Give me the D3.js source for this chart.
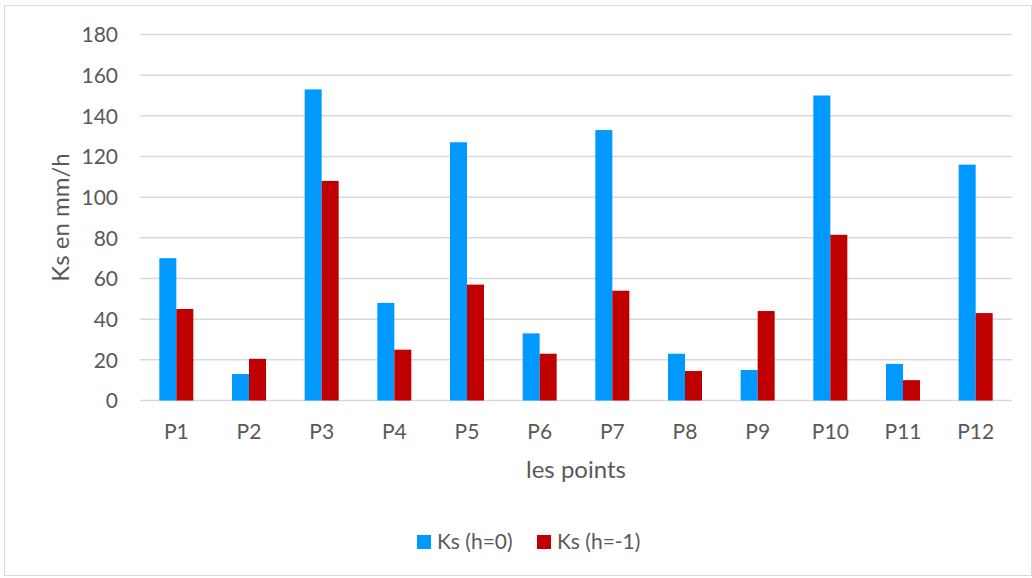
<!DOCTYPE html>
<html>
<head>
<meta charset="utf-8">
<script src="https://cdn.jsdelivr.net/npm/d3@7"></script>
<style>
  body { margin: 0; background: #fff; }
  svg text { font-family: Lato, "Open Sans", sans-serif; fill: #595959; }
</style>
</head>
<body>
<div id="chart"></div>
<script>
var points = ["P1", "P2", "P3", "P4", "P5", "P6", "P7", "P8", "P9", "P10", "P11", "P12"];
var ksH0 = [70, 13, 153, 48, 127, 33, 133, 23, 15, 150, 18, 116];
var ksH1 = [45, 20.5, 108, 25, 57, 23, 54, 14.5, 44, 81.5, 10, 43];
var seriesNames = ["Ks (h=0)", "Ks (h=-1)"];
var seriesColors = ["#0099FF", "#C00000"];
var yTicks = [0, 20, 40, 60, 80, 100, 120, 140, 160, 180];

var width = 1032, height = 578;
var plotLeft = 140, plotRight = 1012, plotTop = 34.5, plotBottom = 400.5;

var svg = d3.select("#chart").append("svg")
    .attr("width", width)
    .attr("height", height)

// chart frame
svg.append("rect")
    .attr("x", 4.5).attr("y", 5.5)
    .attr("width", width - 5).attr("height", height - 8)
    .attr("fill", "none")
    .attr("stroke", "#d9d9d9")

var x = d3.scaleBand().domain(points).range([plotLeft, plotRight]).paddingInner(0).paddingOuter(0);
var y = d3.scaleLinear().domain([0, 180]).range([plotBottom, plotTop]);

// grid lines
svg.append("g")
    .selectAll("line")
    .data(yTicks)
    .enter().append("line")
    .attr("x1", plotLeft).attr("x2", plotRight)
    .attr("y1", function (d) { return y(d); })
    .attr("y2", function (d) { return y(d); })
    .attr("stroke", "#d9d9d9")
    .attr("stroke-width", 1.5)

// y axis labels
var yAxis = svg.append("g")
    .attr("transform", "translate(" + (plotLeft - 22) + ",0)")
    .call(d3.axisLeft(y).tickValues(yTicks).tickSize(0).tickPadding(0))
yAxis.select(".domain").remove();
yAxis.selectAll("text")
    .style("font-size", "21px")
    .attr("dy", "0.35em")

// bars
var barW = 17;
var groups = svg.append("g")
    .selectAll("g")
    .data(points)
    .enter().append("g")
    .attr("transform", function (d) { return "translate(" + (x(d) + x.bandwidth() / 2) + ",0)"; })

groups.append("rect")
    .attr("x", -barW)
    .attr("width", barW)
    .attr("y", function (d, i) { return y(ksH0[i]); })
    .attr("height", function (d, i) { return plotBottom - y(ksH0[i]); })
    .attr("fill", seriesColors[0])

groups.append("rect")
    .attr("x", 0)
    .attr("width", barW)
    .attr("y", function (d, i) { return y(ksH1[i]); })
    .attr("height", function (d, i) { return plotBottom - y(ksH1[i]); })
    .attr("fill", seriesColors[1])

// x axis labels
var xAxis = svg.append("g")
    .attr("transform", "translate(0," + plotBottom + ")")
    .call(d3.axisBottom(x).tickSize(0).tickPadding(0))
xAxis.select(".domain").remove();
xAxis.selectAll("text")
    .style("font-size", "21px")
    .attr("dy", "38.5px")

// axis titles
svg.append("text")
    .attr("x", (plotLeft + plotRight) / 2)
    .attr("y", 478)
    .attr("text-anchor", "middle")
    .style("font-size", "24px")
    .text("les points")

svg.append("text")
    .attr("transform", "translate(69," + ((plotTop + plotBottom) / 2) + ") rotate(-90)")
    .attr("text-anchor", "middle")
    .style("font-size", "24px")
    .text("Ks en mm/h")

// legend
var legendX = [417, 537];
var legend = svg.append("g")
    .selectAll("g")
    .data(seriesNames)
    .enter().append("g")
    .attr("transform", function (d, i) { return "translate(" + legendX[i] + ",535)"; })
legend.append("rect")
    .attr("width", 14).attr("height", 14)
    .attr("fill", function (d, i) { return seriesColors[i]; })
legend.append("text")
    .attr("x", 20).attr("y", 7)
    .attr("dy", "0.35em")
    .style("font-size", "21px")
    .text(function (d) { return d; })
</script>
</body>
</html>
